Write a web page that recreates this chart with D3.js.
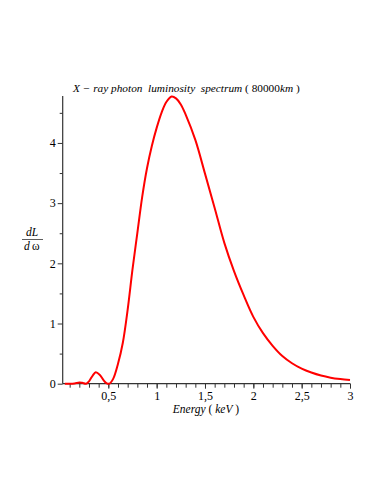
<!DOCTYPE html>
<html>
<head>
<meta charset="utf-8">
<script src="https://cdn.jsdelivr.net/npm/d3@7"></script>
<style>
  body { margin: 0; background: #fff; }
  svg { display: block; }
</style>
</head>
<body>
<svg></svg>
<script>
// energy (keV) and dL/dw
const energy = [0.05, 0.1, 0.15, 0.2, 0.23, 0.27, 0.3, 0.34, 0.37, 0.41, 0.45, 0.48, 0.51,
  0.55, 0.6, 0.65, 0.7, 0.75, 0.8, 0.85, 0.9, 0.95, 1.0, 1.05, 1.1, 1.155, 1.2, 1.25, 1.3,
  1.4, 1.5, 1.6, 1.7, 1.8, 1.9, 2.0, 2.1, 2.2, 2.3, 2.4, 2.5, 2.6, 2.7, 2.8, 2.9, 3.0];
const lum = [0, 0, 0.005, 0.02, 0.015, 0, 0.04, 0.14, 0.19, 0.15, 0.06, 0.01, 0,
  0.08, 0.33, 0.68, 1.23, 1.9, 2.5, 3.1, 3.58, 3.95, 4.25, 4.5, 4.68, 4.77, 4.74, 4.64, 4.47,
  4.05, 3.49, 2.92, 2.34, 1.87, 1.47, 1.11, 0.84, 0.63, 0.46, 0.34, 0.25, 0.185, 0.135, 0.1, 0.077, 0.06];

const xTicks = [0.5, 1, 1.5, 2, 2.5, 3];
const xTickLabels = ["0,5", "1", "1,5", "2", "2,5", "3"];
const yTicks = [0, 1, 2, 3, 4];

const svgWidth = 382, svgHeight = 494;
const plotLeft = 62.7, plotRight = 350, plotTop = 96, plotBottom = 383.7;
const serif = "Liberation Serif";

const svg = d3.select("svg")
    .attr("width", svgWidth)
    .attr("height", svgHeight);

const x = d3.scaleLinear().domain([0.028, 3]).range([plotLeft, plotRight]);
const y = d3.scaleLinear().domain([0, 4.78]).range([plotBottom, plotTop]);

const data = energy.map((e, i) => ({ e: e, v: lum[i] }));

// minor ticks
const xMinor = d3.range(0.1, 3.001, 0.1).filter(d => d > 0.028);
const yMinor = d3.range(0.5, 4.78, 1);

const axisColor = "#333";

// x axis
const gx = svg.append("g").attr("transform", "translate(0," + plotBottom + ")");
gx.call(d3.axisBottom(x).tickValues(xMinor).tickSize(4).tickFormat(""))
  .call(g => g.select(".domain").remove())
  .selectAll("line").attr("stroke", axisColor);
const gx2 = svg.append("g").attr("transform", "translate(0," + plotBottom + ")");
gx2.call(d3.axisBottom(x).tickValues(xTicks).tickSize(5).tickPadding(3)
    .tickFormat((d, i) => xTickLabels[i]))
  .call(g => g.select(".domain").remove());
gx2.selectAll("line").attr("stroke", axisColor);
gx2.attr("font-family", serif).attr("font-size", 12);

// y axis
const gy = svg.append("g").attr("transform", "translate(" + plotLeft + ",0)");
gy.call(d3.axisLeft(y).tickValues(yMinor).tickSize(3).tickFormat(""))
  .call(g => g.select(".domain").remove())
  .selectAll("line").attr("stroke", axisColor);
const gy2 = svg.append("g").attr("transform", "translate(" + plotLeft + ",0)");
gy2.call(d3.axisLeft(y).tickValues(yTicks).tickSize(5).tickPadding(2).tickFormat(d3.format("d")))
  .call(g => g.select(".domain").remove());
gy2.selectAll("line").attr("stroke", axisColor);
gy2.attr("font-family", serif).attr("font-size", 12);

svg.append("line")
    .attr("x1", plotLeft).attr("x2", plotRight).attr("y1", plotBottom).attr("y2", plotBottom)
    .attr("stroke", axisColor).attr("stroke-width", 1.2);
svg.append("line")
    .attr("x1", plotLeft).attr("x2", plotLeft).attr("y1", plotTop).attr("y2", plotBottom)
    .attr("stroke", axisColor).attr("stroke-width", 1.2);

// curve
const line = d3.line()
    .x(d => x(d.e))
    .y(d => y(d.v))
    .curve(d3.curveCatmullRom.alpha(0.5));

svg.append("path")
    .datum(data)
    .attr("fill", "none")
    .attr("stroke", "#ff0000")
    .attr("stroke-width", 2)
    .attr("stroke-linejoin", "round")
    .attr("d", line);

// title
const title = svg.append("text")
    .attr("x", 73).attr("y", 91.5)
    .attr("font-family", serif)
    .attr("font-size", 11.3)
    .style("white-space", "pre");
title.append("tspan").attr("font-style", "italic").text("X \u2212 ray photon  luminosity  spectrum");
title.append("tspan").text(" ( 80000");
title.append("tspan").attr("font-style", "italic").text("km");
title.append("tspan").text(" )");

// y label as fraction
svg.append("text")
    .attr("x", 32).attr("y", 236)
    .attr("text-anchor", "middle")
    .attr("font-family", serif)
    .attr("font-size", 11.5).attr("font-style", "italic")
    .text("dL");
svg.append("line")
    .attr("x1", 22).attr("x2", 43).attr("y1", 239.5).attr("y2", 239.5)
    .attr("stroke", "#333").attr("stroke-width", 0.8);
const yl = svg.append("text")
    .attr("y", 250)
    .attr("font-family", serif)
    .attr("font-size", 11.5);
yl.append("tspan").attr("x", 24).attr("font-style", "italic").text("d");
yl.append("tspan").attr("x", 32).text("\u03c9");

// x label
const xl = svg.append("text")
    .attr("x", 206).attr("y", 413)
    .attr("text-anchor", "middle")
    .attr("font-family", serif)
    .attr("font-size", 11.5)
    .style("white-space", "pre");
xl.append("tspan").attr("font-style", "italic").text("Energy");
xl.append("tspan").text(" ( ");
xl.append("tspan").attr("font-style", "italic").text("keV");
xl.append("tspan").text(" )");
</script>
</body>
</html>
